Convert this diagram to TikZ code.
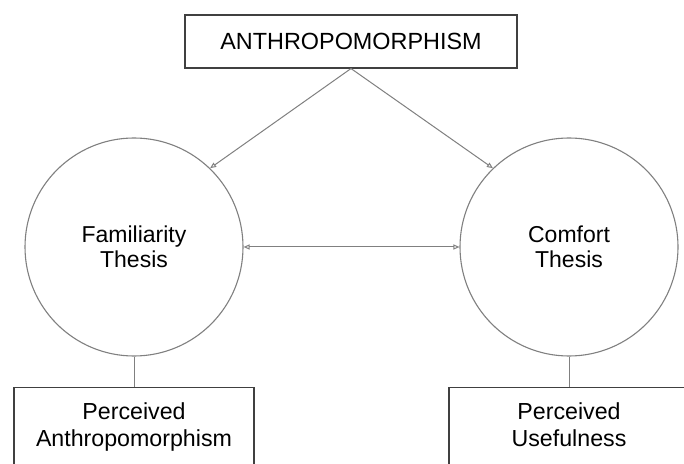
\documentclass[tikz,border=0pt]{standalone}
\usepackage{fontspec}
\setmainfont{Liberation Sans}
\usepackage{tikz}
\usetikzlibrary{shapes,arrows.meta,positioning,calc}

\begin{document}
\begin{tikzpicture}[
    x=1pt, y=1pt,
    node distance=30pt and 1.0cm,
    topbox/.style={rectangle, draw=black!75, line width=1.1pt, align=center, minimum height=53pt, minimum width=332pt, inner sep=0pt, font=\fontsize{23.4}{27}\selectfont},
    thesis/.style={circle, draw=black!50, line width=1.1pt, align=center, minimum size=218pt, inner sep=0pt, font=\fontsize{23}{24.5}\selectfont},
    measure/.style={rectangle, draw=black!75, line width=1.1pt, align=center, minimum height=80pt, minimum width=240pt, inner sep=0pt, font=\fontsize{23.2}{27}\selectfont},
    arrow/.style={-{Triangle[open, length=6pt, width=5pt]}, line width=1pt, draw=black!50},
    link/.style={line width=1pt, draw=black!50}
]
    \clip (0,0) rectangle (684,463);
    \fill[white] (0,0) rectangle (684,463);

    \node [topbox] (anth) at (351,421.5) {ANTHROPOMORPHISM};
    \node [thesis] (fam) at (134,216) {Familiarity\\Thesis};
    \node [thesis] (com) at (569,216) {Comfort\\Thesis};
    \node [measure, below=of fam] (pa) {Perceived\strut\\Anthropomorphism\strut};
    \node [measure, below=of com] (pu) {Perceived\strut\\Usefulness\strut};

    \draw [arrow] (anth.south) -- (fam.46);
    \draw [arrow] (anth.south) -- (com.134);
    \draw [arrow, {Triangle[open, length=6pt, width=5pt]}-{Triangle[open, length=6pt, width=5pt]}] (fam.east) -- (com.west);
    \draw [link] (fam.south) -- (pa.north);
    \draw [link] (com.south) -- (pu.north);
\end{tikzpicture}
\end{document}
